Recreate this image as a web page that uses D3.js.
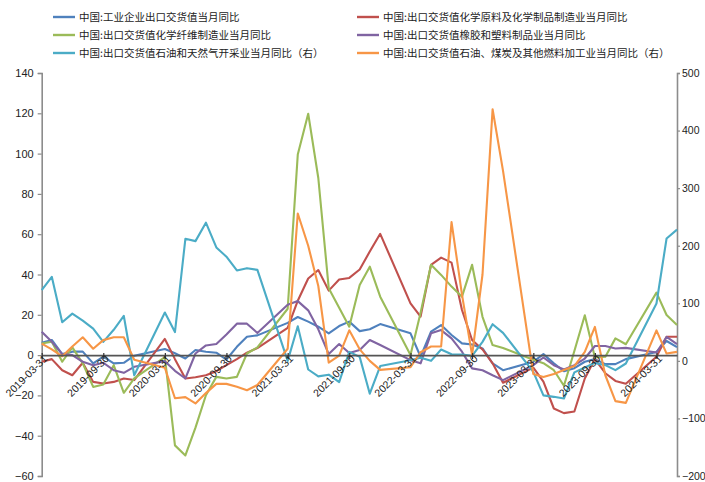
<!DOCTYPE html>
<html>
<head>
<meta charset="utf-8">
<script src="https://cdn.jsdelivr.net/npm/d3@7"></script>
<style>
  html, body { margin: 0; padding: 0; background: #fff; }
  svg { display: block; font-family: "Liberation Sans", Arial, sans-serif; }
  .cn { font-family: "Noto Sans CJK SC", "Noto Sans", sans-serif; }
</style>
</head>
<body>
<svg id="chart" width="705" height="482"></svg>
<script>
// Month-end reporting dates (Jan/Feb are published combined and have no monthly value)
const dates = [
  "2019-03-31","2019-04-30","2019-05-31","2019-06-30","2019-07-31","2019-08-31","2019-09-30","2019-10-31","2019-11-30","2019-12-31",
  "2020-03-31","2020-04-30","2020-05-31","2020-06-30","2020-07-31","2020-08-31","2020-09-30","2020-10-31","2020-11-30","2020-12-31",
  "2021-03-31","2021-04-30","2021-05-31","2021-06-30","2021-07-31","2021-08-31","2021-09-30","2021-10-31","2021-11-30","2021-12-31",
  "2022-03-31","2022-04-30","2022-05-31","2022-06-30","2022-07-31","2022-08-31","2022-09-30","2022-10-31","2022-11-30","2022-12-31",
  "2023-03-31","2023-04-30","2023-05-31","2023-06-30","2023-07-31","2023-08-31","2023-09-30","2023-10-31","2023-11-30","2023-12-31",
  "2024-03-31","2024-04-30","2024-05-31"
];

// Left axis series (%)
const industryTotal = [
  6.1, 7.5, 0.5, 1.7, 1.7, -4.1, -0.8, -4.1, -3.8, -0.3,
  3.0, 0.9, -1.7, 2.5, 1.7, 1.2, -2.2, 4.1, 9.1, 9.8,
  16.0, 18.9, 16.6, 14.1, 10.8, 14.4, 16.6, 11.9, 12.8, 15.4,
  10.8, -0.8, 11.6, 14.9, 10.0, 5.8, 5.3, 3.3, -4.1, -7.5,
  -3.3, 0.5, -4.1, -8.0, -6.5, -3.3, -2.0, -4.5, -4.5, -2.0,
  1.5, 7.0, 4.0
];
const chemicals = [
  -3.3, -2.0, -7.5, -10.0, -3.8, -13.3, -14.1, -13.3, -11.6, -12.4,
  8.0, -2.0, -11.6, -11.0, -10.0, -8.0, -5.0, -2.0, 1.2, 3.5,
  13.5, 27.0, 38.0, 42.2, 32.0, 37.5, 38.3, 42.5, 51.4, 60.2,
  25.7, 19.1, 44.8, 48.4, 45.9, 22.4, 7.5, 2.8, -4.1, -13.7,
  -6.2, -13.2, -26.5, -28.8, -28.0, -11.6, -2.0, -9.0, -12.8, -14.2,
  -0.8, 9.1, 9.1
];
const chemicalFibers = [
  5.8, 6.6, -3.3, 3.8, -4.1, -15.8, -14.6, -5.0, -18.7, -11.6,
  -1.0, -44.8, -49.8, -36.0, -19.9, -10.8, -11.6, -10.8, 0.8, 3.8,
  23.0, 99.5, 119.8, 87.9, 33.2, 23.5, 14.1, 34.8, 43.9, 29.0,
  0.0, 21.0, 44.8, 39.8, 34.0, 29.0, 44.8, 19.0, 5.0, 3.5,
  -2.3, -4.0, -7.5, -15.2, 2.0, 19.8, -1.2, -0.8, 8.3, 5.4,
  31.0, 19.9, 14.9
];
const rubberPlastics = [
  11.6, 6.6, 0.5, 0.0, -3.3, -5.0, -3.8, -7.5, -8.8, -5.8,
  -3.0, -7.8, -11.6, 0.8, 4.8, 5.5, 10.2, 15.6, 15.6, 11.0,
  25.0, 26.8, 22.2, 12.8, 0.5, 5.5, 1.0, 2.5, 7.5, 5.0,
  -2.5, -4.1, 10.8, 12.4, 8.3, 1.7, -6.6, -7.5, -10.0, -12.4,
  -5.0, -1.2, -5.0, -7.1, -5.0, -1.7, 4.5, 4.5, 3.3, 3.6,
  1.3, 9.0, 5.5
];

// Right axis series (%)
const oilGasMining = [
  123, 146, 67, 82, 70, 56, 33, 54, 78, -25,
  84, 50, 212, 208, 240, 197, 181, 157, 161, 158,
  0, 60, -15, -27, -24, -37, 15.6, 6.9, -57, -9,
  1.2, 5.5, 0, 19.7, 11.6, 11.0, 8.7, 33, 63.7, 48.6,
  -19, -60, -62.5, -65.4, -20, -11.6, -3.5, -7.5, -16.2, -4.6,
  99.6, 212.5, 228
];
const fuelProcessing = [
  30, 20, 8, 25, 41, 21, 36, 41, 41, 2,
  -12, -65, -63, -74, -56, -40, -40, -45, -51, -42,
  21, 256, 200, 130, -3, 9, 53, 20, 0, -15.6,
  -11, 15, 25, 25, 241, 115, 10, 150, 437, 330,
  -23, -28, -23, -16, -9, 15.6, 59, -25, -70, -73,
  53, 12.7, 15.6
];

const xTickDates = [
  "2019-03-31","2019-09-30","2020-03-31","2020-09-30","2021-03-31","2021-09-30",
  "2022-03-31","2022-09-30","2023-03-31","2023-09-30","2024-03-31"
];
const leftTicks = [140, 120, 100, 80, 60, 40, 20, 0, -20, -40, -60];
const rightTicks = [500, 400, 300, 200, 100, 0, -100, -200];

const seriesNames = [
  "中国:工业企业出口交货值当月同比",
  "中国:出口交货值化学原料及化学制品制造业当月同比",
  "中国:出口交货值化学纤维制造业当月同比",
  "中国:出口交货值橡胶和塑料制品业当月同比",
  "中国:出口交货值石油和天然气开采业当月同比（右）",
  "中国:出口交货值石油、煤炭及其他燃料加工业当月同比（右）"
];
const seriesValues = [industryTotal, chemicals, chemicalFibers, rubberPlastics, oilGasMining, fuelProcessing];
const seriesAxis = ["left", "left", "left", "left", "right", "right"];
const seriesColors = ["#4F81BD", "#C0504D", "#9BBB59", "#8064A2", "#4BACC6", "#F79646"];

const svg = d3.select("#chart");
const parse = d3.utcParse("%Y-%m-%d");

const plot = { left: 41.7, right: 677, top: 73, bottom: 476 };

const x = d3.scaleUtc()
  .domain([parse(dates[0]), parse(dates[dates.length - 1])])
  .range([plot.left, plot.right]);
const yL = d3.scaleLinear().domain([-60, 140]).range([plot.bottom, plot.top]);
const yR = d3.scaleLinear().domain([-200, 500]).range([plot.bottom, plot.top]);

const axisColor = "#8c8c8c";

// Left value axis
const gL = svg.append("g").attr("transform", `translate(${plot.left},0)`)
  .call(d3.axisLeft(yL).tickValues(leftTicks).tickSize(4).tickPadding(4).tickFormat(d3.format("d")));
gL.select(".domain").attr("stroke", axisColor).attr("stroke-width", 1.6);
gL.selectAll(".tick line").attr("stroke", axisColor).attr("stroke-width", 1.2);
gL.selectAll(".tick text").attr("fill", "#222").style("font-size", "11px")
  .style("font-family", "'Liberation Sans', Arial, sans-serif");

// Right value axis
const gR = svg.append("g").attr("transform", `translate(${plot.right},0)`)
  .call(d3.axisRight(yR).tickValues(rightTicks).tickSize(3).tickPadding(2).tickFormat(d3.format("d")));
gR.select(".domain").attr("stroke", axisColor).attr("stroke-width", 1.6);
gR.selectAll(".tick line").attr("stroke", axisColor).attr("stroke-width", 1.2);
gR.selectAll(".tick text").attr("fill", "#222").style("font-size", "10.5px")
  .style("font-family", "'Liberation Sans', Arial, sans-serif");

// Series lines (left-axis series first, right-axis series on top)
const lineL = d3.line().x((d, i) => x(parse(dates[i]))).y(d => yL(d));
const lineR = d3.line().x((d, i) => x(parse(dates[i]))).y(d => yR(d));

seriesValues.forEach((vals, k) => {
  svg.append("path")
    .datum(vals)
    .attr("fill", "none")
    .attr("stroke", seriesColors[k])
    .attr("stroke-width", 2.1)
    .attr("stroke-linejoin", "round")
    .attr("d", seriesAxis[k] === "left" ? lineL : lineR);
});

// Date axis along the zero line of the left scale
const gX = svg.append("g").attr("transform", `translate(0,${yL(0)})`)
  .call(d3.axisBottom(x).tickValues(xTickDates.map(parse)).tickSize(4).tickSizeOuter(0).tickPadding(2)
    .tickFormat(d3.utcFormat("%Y-%m-%d")));
gX.select(".domain").attr("stroke", "#555").attr("stroke-width", 1.6);
gX.selectAll(".tick line").attr("stroke", "#333").attr("stroke-width", 1.2).attr("y1", -2);
gX.selectAll(".tick text")
  .attr("fill", "#222")
  .style("font-size", "10.5px")
  .style("font-family", "'Liberation Sans', Arial, sans-serif")
  .attr("text-anchor", "end")
  .attr("dx", "0.1em")
  .attr("dy", "0.3em")
  .attr("y", 4)
  .attr("transform", "rotate(-45)");

// Legend: two columns, three rows
const legend = svg.append("g");
seriesNames.forEach((name, k) => {
  const col = k % 2, row = Math.floor(k / 2);
  const lx = col === 0 ? 53 : 357;
  const ly = 17 + row * 18;
  legend.append("line")
    .attr("x1", lx).attr("x2", lx + 22)
    .attr("y1", ly).attr("y2", ly)
    .attr("stroke", seriesColors[k]).attr("stroke-width", 2.4);
  legend.append("text")
    .attr("class", "cn")
    .attr("x", lx + 26).attr("y", ly)
    .attr("dy", "0.35em")
    .attr("fill", "#222")
    .style("font-size", "10.5px")
    .text(name);
});
</script>
</body>
</html>
